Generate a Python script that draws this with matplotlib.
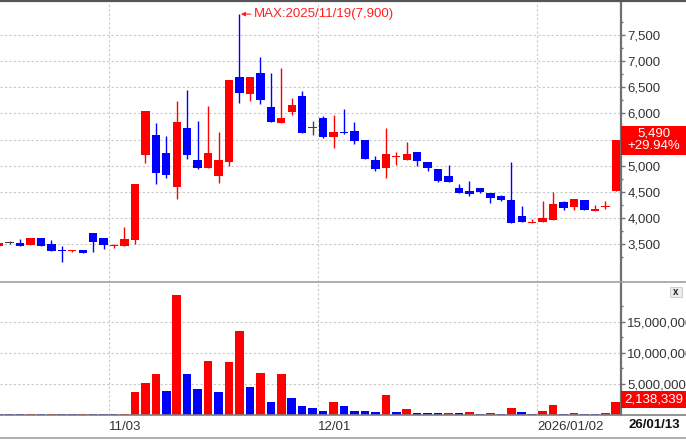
import matplotlib
matplotlib.use('Agg')
import matplotlib.pyplot as plt
from matplotlib.patches import Rectangle
from matplotlib.lines import Line2D
import matplotlib.transforms as mtrans
from matplotlib.ticker import FixedLocator, FuncFormatter

plt.rcParams['font.family'] = ['Liberation Sans', 'DejaVu Sans']

# ---------------- data ----------------
opens = [3460, 3515, 3510, 3480, 3610, 3500, 3380, 3360, 3380, 3710,
         3615, 3470, 3470, 3580, 5195, 5595, 5235, 4600, 5720, 5105,
         4955, 4800, 5070, 6690, 6375, 6770, 6115, 5820, 6020, 6340,
         5720, 5915, 5540, 5640, 5670, 5500, 5100, 4955, 5165, 5100,
         5260, 5070, 4940, 4800, 4580, 4515, 4580, 4470, 4410, 4345,
         4030, 3900, 3925, 3955, 4300, 4215, 4350, 4125, 4200, 4520]
highs = [3520, 3560, 3590, 3610, 3610, 3580, 3470, 3380, 3380, 3710,
         3615, 3500, 3820, 4655, 6050, 5820, 5565, 6230, 6440, 5850,
         6145, 5640, 6630, 7900, 6705, 7075, 6770, 6865, 6295, 6420,
         5850, 5945, 5975, 6085, 5830, 5500, 5180, 5720, 5260, 5450,
         5260, 5070, 4940, 5020, 4640, 4705, 4580, 4470, 4435, 5070,
         4220, 3985, 4325, 4500, 4320, 4365, 4350, 4250, 4330, 5490]
lows = [3450, 3500, 3460, 3480, 3470, 3370, 3150, 3350, 3330, 3340,
        3400, 3420, 3470, 3500, 5055, 4640, 4770, 4355, 5120, 4930,
        4955, 4675, 4990, 6200, 6230, 6185, 5830, 5820, 5965, 5625,
        5595, 5520, 5340, 5610, 5405, 5120, 4900, 4770, 5010, 5100,
        4990, 4900, 4690, 4690, 4485, 4410, 4480, 4290, 4330, 3900,
        3925, 3900, 3925, 3955, 4150, 4150, 4160, 4125, 4175, 4520]
closes = [3510, 3515, 3470, 3610, 3470, 3375, 3370, 3380, 3335, 3530,
          3490, 3480, 3595, 4655, 6050, 4865, 4815, 5830, 5195, 4955,
          5245, 5100, 6630, 6390, 6705, 6250, 5830, 5915, 6170, 5625,
          5720, 5540, 5640, 5625, 5470, 5120, 4930, 5215, 5180, 5215,
          5085, 4955, 4715, 4690, 4485, 4450, 4500, 4380, 4345, 3900,
          3925, 3910, 3990, 4275, 4185, 4365, 4160, 4175, 4225, 5490]
volumes = [150000, 140000, 130000, 180000, 150000, 200000, 170000, 150000, 180000, 160000,
           140000, 120000, 200000, 3660000, 5200000, 6560000, 3870000, 19350000, 6560000, 4190000,
           8710000, 3660000, 8490000, 13550000, 4520000, 6720000, 2040000, 6560000, 2690000, 1510000,
           1080000, 650000, 2040000, 1510000, 700000, 680000, 480000, 3170000, 470000, 910000,
           320000, 310000, 300000, 380000, 320000, 480000, 160000, 380000, 220000, 1180000,
           480000, 160000, 700000, 1560000, 160000, 380000, 160000, 150000, 380000, 2138339]
xtick_labels = ['11/03', '12/01', '2026/01/02']
xtick_index = [11, 31, 52]
last_date = '26/01/13'
max_label = 'MAX:2025/11/19(7,900)'
price_ticks = [3500, 4000, 4500, 5000, 5500, 6000, 6500, 7000, 7500]
volume_ticks = [5000000, 10000000, 15000000]

RED = '#ff0000'
BLUE = '#0000ff'
DOJI = '#404040'
GRID = '#c8c8c8'
AXC = '#707070'

n = len(opens)
xs = list(range(n))

W, H = 686, 440
fig = plt.figure(figsize=(W / 100, H / 100), dpi=100)


def fr(x0, y0, x1, y1):
    return [x0 / W, 1 - y1 / H, (x1 - x0) / W, (y1 - y0) / H]


axp = fig.add_axes(fr(0, 2, 621, 282))
axv = fig.add_axes(fr(0, 282, 621, 415), sharex=axp)

PY0, PY1 = 2773, 8132

# ---------------- candles ----------------
ccol = []
for o, c in zip(opens, closes):
    if c > o:
        ccol.append(RED)
    elif c < o:
        ccol.append(BLUE)
    else:
        ccol.append(DOJI)

axp.vlines(xs, lows, highs, colors=ccol, lw=1.0, zorder=3)
bottoms = [min(o, c) for o, c in zip(opens, closes)]
heights = [max(abs(c - o), 18) for o, c in zip(opens, closes)]
axp.bar(xs, heights, bottom=bottoms, width=0.8, color=ccol, linewidth=0, zorder=4)

axp.set_xlim(0.09, 59.5)
axp.set_ylim(PY0, PY1)
axp.set_axisbelow(True)

# max annotation
imax = highs.index(max(highs))
axp.annotate(max_label, xy=(imax, highs[imax]), xytext=(14, 0), textcoords='offset pixels',
             ha='left', va='center', color='#ff2020', fontsize=9.5,
             arrowprops=dict(arrowstyle='-|>', color='#ff2020', lw=0.8,
                             shrinkA=0, shrinkB=1, mutation_scale=6))

# ---------------- volume ----------------
vcol = []
for i, v in enumerate(volumes):
    vcol.append(RED if i > 0 and v > volumes[i - 1] else BLUE)
axv.bar(xs, volumes, width=0.82, color=vcol, linewidth=0, zorder=3)
axv.set_ylim(0, 21450000)
axv.set_axisbelow(True)

# ---------------- last value box geometry ----------------
half = 14.5 * (PY1 - PY0) / 280


def price_fmt(v, p):
    if abs(v - closes[-1]) < half:
        return ''
    return f'{int(v):,}'


# ---------------- axes styling ----------------
for ax in (axp, axv):
    for s in ('left', 'top', 'bottom'):
        ax.spines[s].set_visible(False)
    ax.spines['right'].set_color(AXC)
    ax.spines['right'].set_linewidth(1.6)
    ax.yaxis.tick_right()
    ax.tick_params(axis='y', which='major', direction='out', length=3, width=1,
                   color=AXC, pad=1.5, labelsize=9.5, labelcolor='#333333')
    ax.tick_params(axis='y', which='minor', direction='out', length=1.6, width=1, color=AXC)
    ax.set_xticks([i - 0.5 for i in xtick_index])
    ax.xaxis.grid(True, ls=(0, (2, 2)), color=GRID, lw=0.8)
    ax.yaxis.grid(True, ls=(0, (2, 2)), color=GRID, lw=0.8)
    ax.set_facecolor('white')

axp.set_yticks(price_ticks)
axp.yaxis.set_minor_locator(FixedLocator([p + 250 for p in [3000] + price_ticks]))
axp.yaxis.set_major_formatter(FuncFormatter(price_fmt))
axp.tick_params(axis='x', length=0, labelbottom=False)

axv.set_yticks(volume_ticks)
axv.yaxis.set_minor_locator(FixedLocator([2500000, 7500000, 12500000, 17500000]))
axv.yaxis.set_major_formatter(FuncFormatter(lambda v, p: f'{int(v):,}'))
axv.set_xticklabels(xtick_labels)
axv.tick_params(axis='x', length=0, pad=4, labelsize=9.5, labelcolor='#333333')
for t in axv.get_xticklabels():
    t.set_ha('left')

# ---------------- last value boxes ----------------
bt_p = mtrans.blended_transform_factory(axp.transAxes, axp.transData)
chg = (closes[-1] / closes[-2] - 1) * 100
axp.add_patch(Rectangle((1.0, closes[-1] - half), 65 / 621, 2 * half, transform=bt_p,
                        facecolor=RED, edgecolor='none', clip_on=False, zorder=5))
axp.text(1 + 32.5 / 621, closes[-1], f'{closes[-1]:,}\n{chg:+.2f}%', transform=bt_p,
         ha='center', va='center', color='white', fontsize=9.5, linespacing=1.05,
         clip_on=False, zorder=6)

bt_v = mtrans.blended_transform_factory(axv.transAxes, axv.transData)
vh = 8.5 * 21450000 / 133
axv.add_patch(Rectangle((1.0, volumes[-1] - vh + 350000), 65 / 621, 2 * vh, transform=bt_v,
                        facecolor=RED, edgecolor='none', clip_on=False, zorder=5))
axv.text(1 + 32.5 / 621, volumes[-1] + 350000, f'{volumes[-1]:,}', transform=bt_v,
         ha='center', va='center', color='white', fontsize=9.5, clip_on=False, zorder=6)

# ---------------- frame lines ----------------
def hline(y, color, lw):
    fig.add_artist(Line2D([0, 1], [1 - y / H, 1 - y / H], transform=fig.transFigure,
                          color=color, lw=lw))

hline(1, '#555555', 1.6)
hline(282, '#a0a0a0', 1.2)
hline(415, '#808080', 1.2)
hline(438, '#a0a0a0', 1.2)

# close button
fig.add_artist(Rectangle((670 / W, 1 - 297 / H), 12 / W, 10 / H, transform=fig.transFigure,
                         facecolor='#ececec', edgecolor='#c8c8c8', lw=0.6))
fig.text(676 / W, 1 - 292 / H, 'x', ha='center', va='center', fontsize=7,
         fontweight='bold', color='#222222')

fig.text(654 / W, 1 - 425 / H, last_date, ha='center', va='center', fontsize=9.5,
         fontweight='bold', color='#111111')

fig.savefig('out.png', dpi=100, facecolor='white')
